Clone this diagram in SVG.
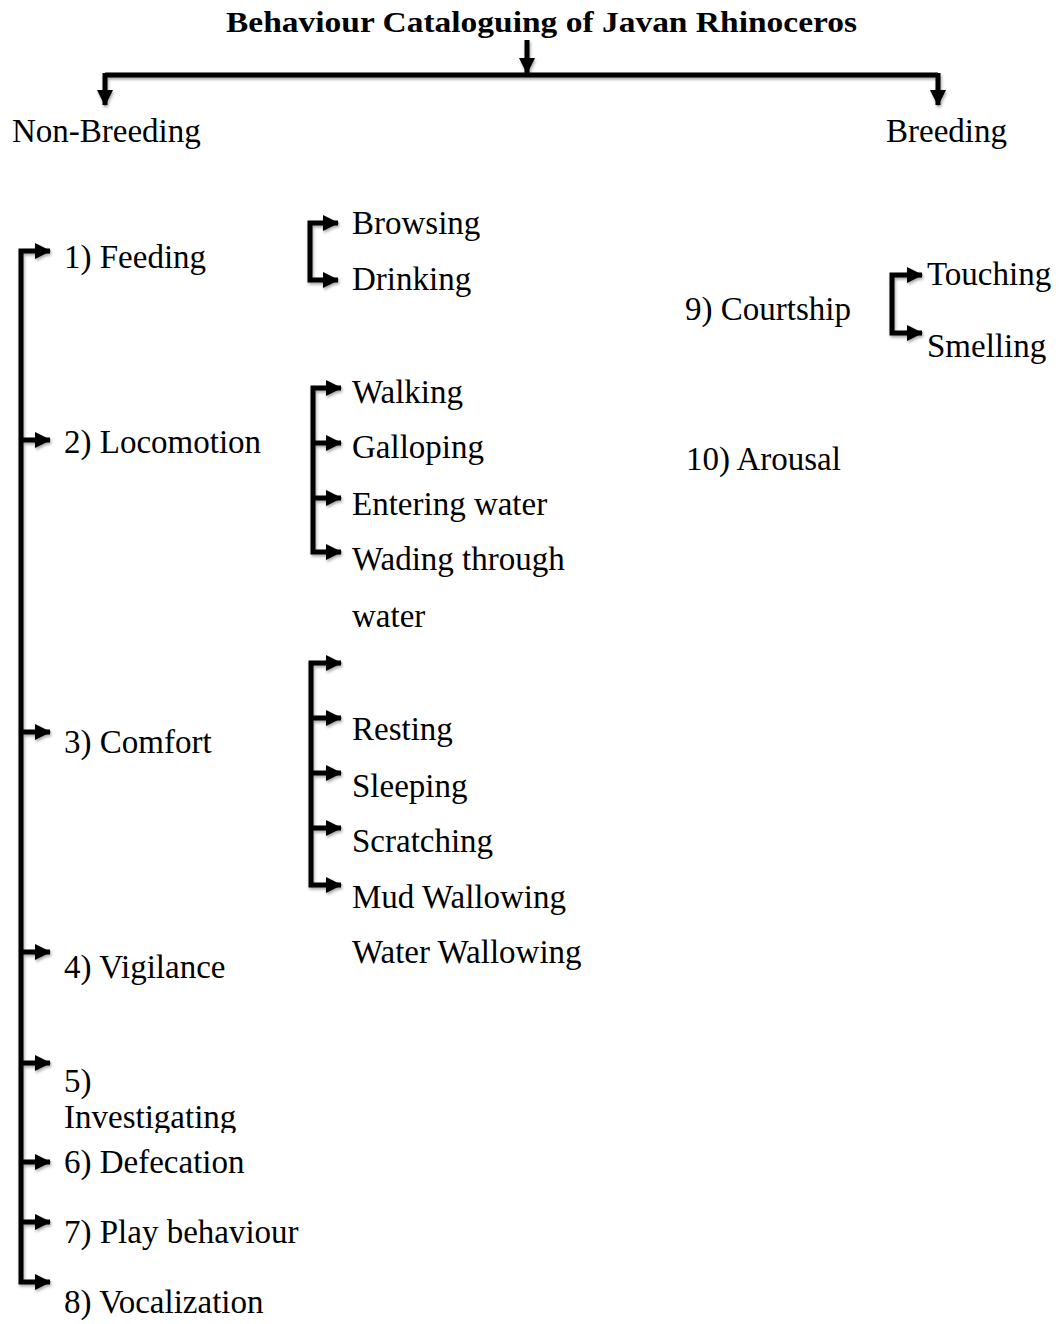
<svg xmlns="http://www.w3.org/2000/svg" width="1059" height="1324" viewBox="0 0 1059 1324">
<style>
text{font-family:"Liberation Serif","Times New Roman",serif;font-size:33px;fill:#000}
.title{font-weight:bold;font-size:30px}
.c path{fill:none;stroke:#000;stroke-width:5;stroke-linejoin:miter;stroke-linecap:butt}
.a{marker-end:url(#ah)}
.b{marker-start:url(#ah);marker-end:url(#ah)}
</style>
<defs>
<marker id="ah" markerUnits="userSpaceOnUse" viewBox="0 0 16 16" refX="15" refY="8" markerWidth="16" markerHeight="16" orient="auto-start-reverse">
<path d="M0,0 L16,8 L0,16 z" fill="#000"/>
</marker>
<filter id="sh" x="-10%" y="-10%" width="130%" height="130%">
<feDropShadow dx="1" dy="2" stdDeviation="1.5" flood-color="#000" flood-opacity="0.35"/>
</filter>
<clipPath id="clip5"><rect x="0" y="1100" width="400" height="33"/></clipPath>
</defs>
<g id="connectors" class="c" filter="url(#sh)">
<path class="a" d="M527,40 V73"/>
<path d="M105,75 H938"/>
<path class="a" d="M105,73 V105"/>
<path class="a" d="M938,73 V105"/>
<path class="b" d="M50,251 H21 V1282 H50"/>
<path class="a" d="M21,440 H50"/>
<path class="a" d="M21,732 H50"/>
<path class="a" d="M21,952 H50"/>
<path class="a" d="M21,1063 H50"/>
<path class="a" d="M21,1162 H50"/>
<path class="a" d="M21,1222 H50"/>
<path class="b" d="M338,223 H310 V280 H338"/>
<path class="b" d="M341,388 H313 V552 H341"/>
<path class="a" d="M313,443 H341"/>
<path class="a" d="M313,498 H341"/>
<path class="b" d="M341,663 H311 V885 H341"/>
<path class="a" d="M311,718 H341"/>
<path class="a" d="M311,773 H341"/>
<path class="a" d="M311,828 H341"/>
<path class="b" d="M922,275 H892 V333 H922"/>
</g>
<g id="title"><text class="title" x="226" y="32" textLength="631" lengthAdjust="spacingAndGlyphs">Behaviour Cataloguing of Javan Rhinoceros</text></g>
<g id="non-breeding"><text x="12" y="142">Non-Breeding</text></g>
<g id="breeding"><text x="886" y="142">Breeding</text></g>
<g id="feeding"><text x="64" y="268">1) Feeding</text></g>
<g id="browsing"><text x="352" y="234">Browsing</text></g>
<g id="drinking"><text x="352" y="290">Drinking</text></g>
<g id="locomotion"><text x="64" y="453">2) Locomotion</text></g>
<g id="walking"><text x="352" y="403">Walking</text></g>
<g id="galloping"><text x="352" y="458">Galloping</text></g>
<g id="entering"><text x="352" y="515">Entering water</text></g>
<g id="wading"><text x="352" y="570">Wading through</text><text x="352" y="627">water</text></g>
<g id="comfort"><text x="64" y="753">3) Comfort</text></g>
<g id="resting"><text x="352" y="740">Resting</text></g>
<g id="sleeping"><text x="352" y="797">Sleeping</text></g>
<g id="scratching"><text x="352" y="852">Scratching</text></g>
<g id="mud"><text x="352" y="908">Mud Wallowing</text></g>
<g id="waterw"><text x="352" y="963">Water Wallowing</text></g>
<g id="vigilance"><text x="64" y="978">4) Vigilance</text></g>
<g id="investigating"><text x="64" y="1092">5)</text><text x="64" y="1128" clip-path="url(#clip5)">Investigating</text></g>
<g id="defecation"><text x="64" y="1173">6) Defecation</text></g>
<g id="play"><text x="64" y="1243">7) Play behaviour</text></g>
<g id="vocalization"><text x="64" y="1313">8) Vocalization</text></g>
<g id="courtship"><text x="685" y="320">9) Courtship</text></g>
<g id="touching"><text x="927" y="285">Touching</text></g>
<g id="smelling"><text x="927" y="357">Smelling</text></g>
<g id="arousal"><text x="686" y="470">10) Arousal</text></g>
</svg>
